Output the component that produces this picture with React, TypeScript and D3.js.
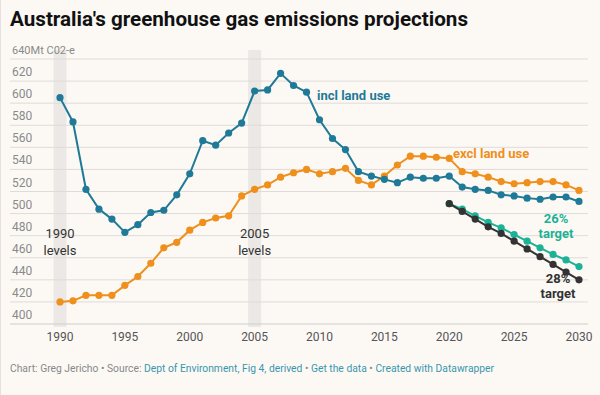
import React from "react";
import * as d3 from "d3";

const years = d3.range(1990, 2031);
const targetYears = d3.range(2020, 2031);

const inclLandUse = [
  605, 583, 522, 504, 495, 483, 490, 501, 503, 517, 536, 566, 562, 573, 582,
  611, 612, 627, 616, 610, 585, 568, 558, 538, 534, 531, 528, 533, 532, 532,
  534, 524, 522, 521, 517, 516, 514, 513, 515, 515, 511
];
const exclLandUse = [
  420, 421, 426, 426, 426, 435, 443, 455, 469, 474, 485, 492, 496, 498, 516,
  522, 526, 533, 537, 540, 536, 538, 541, 530, 526, 534, 544, 552, 552, 551,
  550, 538, 536, 533, 529, 527, 528, 529, 529, 526, 521
];
const target26 = [509, 504, 498, 492, 487, 481, 475, 469, 463, 458, 452];
const target28 = [509, 502, 495, 488, 482, 475, 468, 461, 454, 447, 440];

const yTicks = [400, 420, 440, 460, 480, 500, 520, 540, 560, 580, 600, 620, 640];
const xTicks = [1990, 1995, 2000, 2005, 2010, 2015, 2020, 2025, 2030];
const highlightYears = [1990, 2005];

const W = 600;
const H = 395;
const font = "Roboto, 'Noto Sans', sans-serif";

const x = d3.scaleLinear().domain([1990, 2030]).range([60, 579]);
const y = d3.scaleLinear().domain([400, 640]).range([324, 59]);

const line = d3
  .line<[number, number]>()
  .x(d => x(d[0]))
  .y(d => y(d[1]));

function Series({ xs, vs, color }: { xs: number[]; vs: number[]; color: string }) {
  const pts: [number, number][] = xs.map((yr, i) => [yr, vs[i]]);
  return (
    <g>
      <path d={line(pts) || ""} fill="none" stroke={color} strokeWidth={2} />
      {pts.map((p, i) => (
        <circle key={i} cx={x(p[0])} cy={y(p[1])} r={3.6} fill={color} />
      ))}
    </g>
  );
}

export default function App() {
  const blue = "#1f7a97";
  const orange = "#ef8f1c";
  const green = "#1cb296";
  const dark = "#333333";
  const link = "#3a96ad";

  return (
    <svg
      width={W}
      height={H}
      style={{ position: "absolute", left: 0, top: 0, fontFamily: font }}
    >
      <rect width={W} height={H} fill="#fcf9f5" />
      <line x1={0.5} x2={0.5} y1={0} y2={H} stroke="#e4e1dd" />

      <text
        x={10}
        y={26}
        fontSize={21}
        fontWeight={700}
        fill="#111"
        textLength={458}
        lengthAdjust="spacingAndGlyphs"
      >
        Australia's greenhouse gas emissions projections
      </text>

      {/* highlight bands */}
      {highlightYears.map(yr => (
        <rect
          key={yr}
          x={x(yr - 0.5)}
          width={x(yr + 0.5) - x(yr - 0.5)}
          y={50}
          height={277}
          fill="#ebe8e5"
        />
      ))}

      {/* grid */}
      {yTicks.map(t => (
        <g key={t}>
          <line
            x1={10}
            x2={588}
            y1={y(t)}
            y2={y(t)}
            stroke={t === 400 ? "#cfcccb" : "#dedbd8"}
            strokeWidth={1}
          />
          <text x={12} y={y(t) - 5} fontSize={t === 640 ? 11 : 12} fill="#8a8a8a">
            {t === 640 ? "640Mt C02-e" : t}
          </text>
        </g>
      ))}

      {xTicks.map(t => (
        <text key={t} x={x(t)} y={341} fontSize={12} fill="#555" textAnchor="middle">
          {t}
        </text>
      ))}

      <g fontSize={13} fill="#333" textAnchor="middle">
        <text x={x(1990)} y={238}>1990</text>
        <text x={x(1990)} y={255}>levels</text>
        <text x={x(2005)} y={238}>2005</text>
        <text x={x(2005)} y={255}>levels</text>
      </g>

      <Series xs={years} vs={exclLandUse} color={orange} />
      <Series xs={years} vs={inclLandUse} color={blue} />
      <Series xs={targetYears} vs={target26} color={green} />
      <Series xs={targetYears} vs={target28} color={dark} />

      <g fontSize={13} fontWeight={700}>
        <text x={317} y={100} fill={blue}>incl land use</text>
        <text x={453} y={158} fill={orange}>excl land use</text>
        <text x={556} y={223} fill={green} textAnchor="middle">26%</text>
        <text x={556} y={238} fill={green} textAnchor="middle">target</text>
        <text x={558} y={283} fill={dark} textAnchor="middle">28%</text>
        <text x={558} y={298} fill={dark} textAnchor="middle">target</text>
      </g>

      <text x={10} y={372} fontSize={10.3} fill="#888">
        Chart: Greg Jericho • Source:{" "}
        <tspan fill={link}>Dept of Environment, Fig 4, derived</tspan>
        {" • "}
        <tspan fill={link}>Get the data</tspan>
        {" • "}
        <tspan fill={link}>Created with Datawrapper</tspan>
      </text>
    </svg>
  );
}
